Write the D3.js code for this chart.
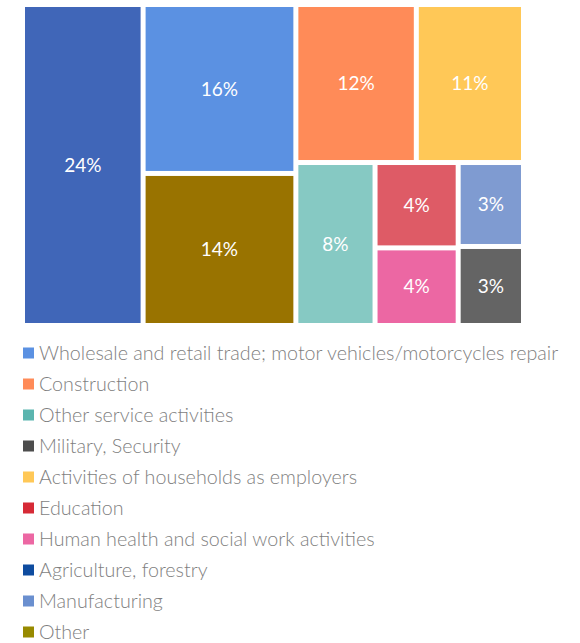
<!DOCTYPE html>
<html>
<head>
<meta charset="utf-8">
<script src="https://cdn.jsdelivr.net/npm/d3@7/dist/d3.min.js"></script>
<style>
  body { margin: 0; background: #fff; }
  svg { display: block; }
  .lab { fill: #fff; font-family: Lato, "Open Sans", sans-serif; font-size: 19px; }
  .leg { fill: #7f7f7f; font-family: Lato, "Open Sans", sans-serif; font-size: 19.7px; font-weight: 300; }
</style>
</head>
<body>
<svg id="chart" width="580" height="643"></svg>
<script>
// categories in legend order
var categories = [
  "Wholesale and retail trade; motor vehicles/motorcycles repair",
  "Construction",
  "Other service activities",
  "Military, Security",
  "Activities of households as employers",
  "Education",
  "Human health and social work activities",
  "Agriculture, forestry",
  "Manufacturing",
  "Other"
];
// share of total (%), read from the tile areas
var values = [16, 11.8, 8, 3.2, 10.5, 4.4, 4, 24, 3.4, 14.4];

var tileColors = ["#5B91E2", "#FF8B58", "#86C9C3", "#646464", "#FFC857", "#DE5B66", "#EC67A3", "#4066B8", "#7F9BD1", "#997300"];
var legendColors = ["#5B91E2", "#FF8B58", "#5BB5AF", "#4D4D4D", "#FFC857", "#D62A36", "#EC67A3", "#0E4C9F", "#6A8FCF", "#978A00"];

// how the tiles are grouped (indexes into categories)
var blocks = [7, [0, 9], [[1, 4], [2, [5, 6], [8, 3]]]];

var svg = d3.select("#chart");

function build(b) {
  if (Array.isArray(b)) return { children: b.map(build) };
  return { i: b, name: categories[b], value: values[b] };
}

var root = d3.hierarchy(build(blocks)).sum(function(d) { return d.value || 0; });

// alternate columns / rows by depth
function tile(node, x0, y0, x1, y1) {
  if (node.depth % 2 == 0) d3.treemapDice(node, x0, y0, x1, y1);
  else d3.treemapSlice(node, x0, y0, x1, y1);
}

d3.treemap()
  .size([496, 316])
  .tile(tile)
  .paddingInner(5)(root);

var g = svg.append("g").attr("transform", "translate(25,7)");

var leaf = g.selectAll(".leaf")
  .data(root.leaves())
  .enter().append("g")
  .attr("class", "leaf");

leaf.append("rect")
  .attr("x", function(d) { return d.x0; })
  .attr("y", function(d) { return d.y0; })
  .attr("width", function(d) { return d.x1 - d.x0; })
  .attr("height", function(d) { return d.y1 - d.y0; })
  .attr("fill", function(d) { return tileColors[d.data.i]; });

leaf.append("text")
  .attr("class", "lab")
  .attr("x", function(d) { return (d.x0 + d.x1) / 2; })
  .attr("y", function(d) { return (d.y0 + d.y1) / 2; })
  .attr("text-anchor", "middle")
  .attr("dy", "0.35em")
  .text(function(d) { return Math.round(d.data.value) + "%"; });

// legend
var legY = d3.scalePoint().domain(d3.range(categories.length)).range([353, 632]);

var leg = svg.selectAll(".legItem")
  .data(categories)
  .enter().append("g")
  .attr("class", "legItem")
  .attr("transform", function(d, i) { return "translate(23," + legY(i) + ")"; });

leg.append("rect")
  .attr("x", 0)
  .attr("y", -5.5)
  .attr("width", 11)
  .attr("height", 11)
  .attr("fill", function(d, i) { return legendColors[i]; });

leg.append("text")
  .attr("class", "leg")
  .attr("x", 16)
  .attr("dy", "0.35em")
  .text(function(d) { return d; });
</script>
</body>
</html>
